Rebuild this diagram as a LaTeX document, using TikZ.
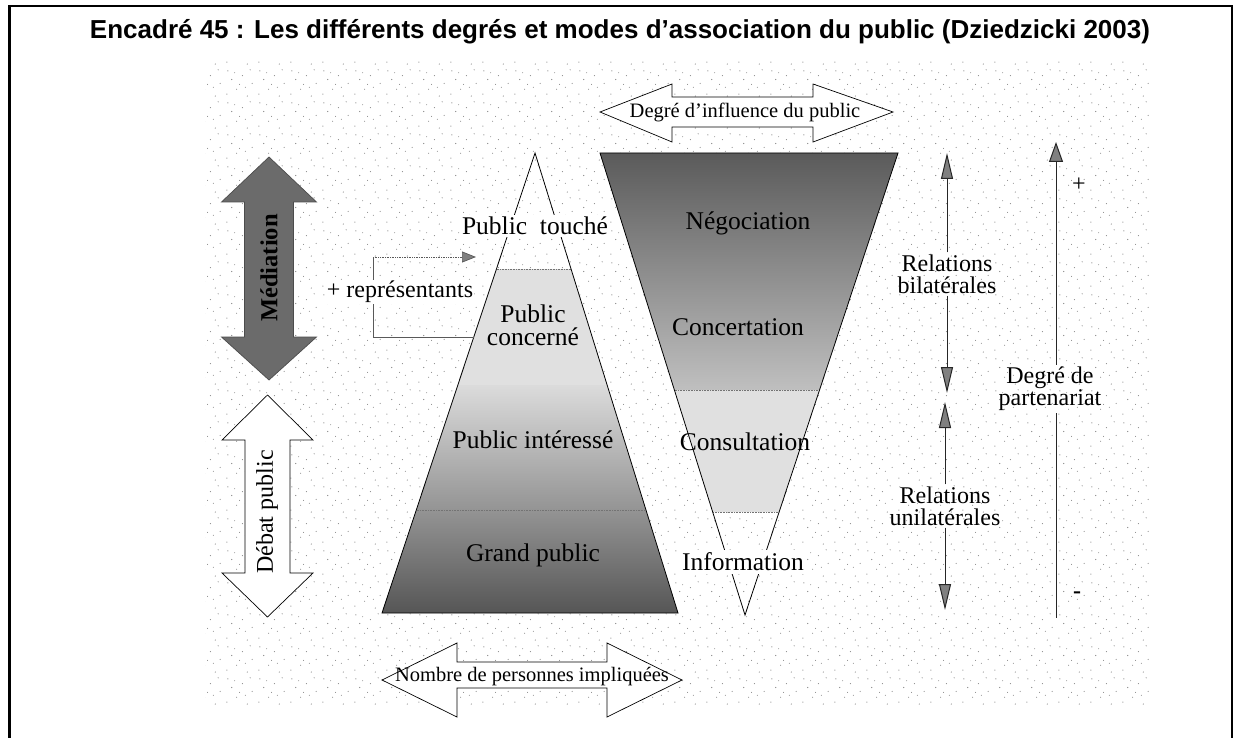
\documentclass[tikz,border=0pt]{standalone}
\usepackage{fontspec}
\setmainfont{Liberation Serif}
\newfontfamily\titlefont{Liberation Sans}
\usetikzlibrary{patterns,arrows.meta}
\pgfdeclarepatternformonly{stipple}{\pgfqpoint{0pt}{0pt}}{\pgfqpoint{32pt}{32pt}}{\pgfqpoint{32pt}{32pt}}{%
 \pgfpathcircle{\pgfqpoint{3pt}{4pt}}{0.6pt}
 \pgfpathcircle{\pgfqpoint{13pt}{9pt}}{0.6pt}
 \pgfpathcircle{\pgfqpoint{24pt}{2pt}}{0.6pt}
 \pgfpathcircle{\pgfqpoint{8pt}{19pt}}{0.6pt}
 \pgfpathcircle{\pgfqpoint{19pt}{23pt}}{0.6pt}
 \pgfpathcircle{\pgfqpoint{29pt}{15pt}}{0.6pt}
 \pgfpathcircle{\pgfqpoint{4pt}{28pt}}{0.6pt}
 \pgfpathcircle{\pgfqpoint{27pt}{29pt}}{0.6pt}
 \pgfpathcircle{\pgfqpoint{16pt}{14pt}}{0.5pt}
 \pgfpathcircle{\pgfqpoint{11pt}{26pt}}{0.5pt}
 \pgfpathcircle{\pgfqpoint{22pt}{11pt}}{0.5pt}
 \pgfusepath{fill}}
\begin{document}
\begin{tikzpicture}[x=1pt,y=1pt,
  titlestyle/.style={font=\titlefont\fontsize{26}{30}\bfseries, inner sep=0pt},
  lbl/.style={font=\fontsize{24}{22}\selectfont, align=center, inner sep=2pt},
  shapelbl/.style={font=\fontsize{25.5}{23}\selectfont, align=center, inner sep=2pt},
  arrlbl/.style={font=\fontsize{20.5}{22}\selectfont, inner sep=1pt},
  outline/.style={draw=black, line width=0.8pt},
  bigarrow/.style={draw=black, line width=0.7pt, fill=white},
  divline/.style={draw=black!55, line width=0.6pt, densely dotted},
  rel/.style={draw=black!85, line width=1pt},
  relhead/.style={-{Triangle[length=26pt,width=12pt,fill=black!50]}},
  parthead/.style={-{Triangle[length=20pt,width=14pt,fill=black!50]}},
  brk/.style={draw=black!65, line width=0.7pt}
]
\useasboundingbox (0,0) rectangle (1239,-738);
\fill[white] (0,0) rectangle (1239,-738);
% frame
\draw[line width=2.5pt] (9.5,-738) -- (9.5,-6) -- (1232,-6) -- (1232,-738);
\node[titlestyle] (title) at (620,-32) {Encadré 45 : Les différents degrés et modes d’association du public (Dziedzicki 2003)};
% stipple background
\fill[pattern=stipple, pattern color=black!50] (205,-60) rectangle (1150,-705);

% ---------- pyramid ----------
\coordinate (pA) at (535,-153);
\coordinate (pL) at (382,-613);
\coordinate (pR) at (678,-613);
\begin{scope}
  \clip (pA) -- (pL) -- (pR) -- cycle;
  \fill[black!12] (300,-269) rectangle (700,-385);
  \shade[top color=black!14, bottom color=black!42] (300,-385) rectangle (700,-510);
  \shade[top color=black!42, bottom color=black!68] (300,-510) rectangle (700,-620);
  \draw[divline] (300,-269) -- (700,-269);
  \draw[divline] (300,-510) -- (700,-510);
\end{scope}
\draw[outline] (pA) -- (pL) -- (pR) -- cycle;

% ---------- inverted triangle ----------
\coordinate (iL) at (600,-153);
\coordinate (iR) at (898,-153);
\coordinate (iT) at (745,-615);
\begin{scope}
  \clip (iL) -- (iR) -- (iT) -- cycle;
  \shade[top color=black!65, bottom color=black!25] (590,-150) rectangle (905,-390);
  \fill[black!12] (590,-390) rectangle (905,-512);
  \draw[divline] (590,-390) -- (905,-390);
  \draw[divline] (590,-512) -- (905,-512);
\end{scope}
\draw[outline] (iL) -- (iR) -- (iT) -- cycle;

% ---------- labels in shapes ----------
\node[shapelbl, fill=white] (touche) at (535,-226) {Public\ \ touché};
\node[shapelbl] (concerne) at (533,-325) {Public\\concerné};
\node[shapelbl] (interesse) at (533,-440) {Public intéressé};
\node[shapelbl] (grand) at (533,-555) {Grand public};
\node[shapelbl] (nego) at (748,-223) {Négociation};
\node[shapelbl] (conce) at (738,-327) {Concertation};
\node[shapelbl] (consu) at (745,-442) {Consultation};
\node[shapelbl, fill=white, inner sep=3pt] (info) at (743,-562) {Information};

% ---------- horizontal double arrows ----------
\draw[bigarrow] (600,-112) -- (672,-84) -- (672,-97) -- (813,-97) -- (813,-84) -- (893,-112)
  -- (813,-142) -- (813,-127) -- (672,-127) -- (672,-142) -- cycle;
\node[arrlbl] (infl) at (745,-112) {Degré d’influence du public};
\draw[bigarrow] (382,-680) -- (457,-643) -- (457,-662) -- (607,-662) -- (607,-643) -- (682,-680)
  -- (607,-717) -- (607,-688) -- (457,-688) -- (457,-717) -- cycle;
\node[arrlbl] (nombre) at (532,-677) {Nombre de personnes impliquées};

% ---------- vertical double arrows ----------
\draw[draw=black!70, line width=0.7pt, fill=black!58] (269,-157) -- (316.5,-202) -- (293.5,-202) -- (293.5,-337)
  -- (316.5,-337) -- (269,-380) -- (221.5,-337) -- (244.5,-337) -- (244.5,-202) -- (221.5,-202) -- cycle;
\node[lbl, font=\fontsize{24.5}{22}\bfseries, rotate=90] (med) at (269,-268) {Médiation};
\draw[bigarrow] (267.5,-395) -- (313,-440) -- (290,-440) -- (290,-573) -- (313,-573) -- (267.5,-617)
  -- (222,-573) -- (245,-573) -- (245,-440) -- (222,-440) -- cycle;
\node[lbl, rotate=90] (debat) at (267,-512) {Débat public};

% ---------- + représentants bracket ----------
\coordinate (bS) at (474,-337);
\coordinate (bC1) at (373,-337);
\coordinate (bC2) at (373,-257);
\coordinate (bE) at (476,-257);
\draw[brk] (bS) -- (bC1) -- (bC2);
\draw[brk, densely dotted, -{Triangle[length=14pt,width=11pt,fill=black!50]}] (bC2) -- (bE);
\node[lbl, fill=white, inner sep=1pt] (repr) at (400,-292) {+ représentants};

% ---------- relations ----------
\node[lbl] (bil) at (947,-274) {Relations\\bilatérales};
\node[lbl] (uni) at (945,-506) {Relations\\unilatérales};
\coordinate (bilTop) at (947,-153);
\coordinate (bilBot) at (947,-393);
\coordinate (uniTop) at (945,-402);
\coordinate (uniBot) at (945,-610);
\draw[rel, relhead] (bil.north) -- (bilTop);
\draw[rel, relhead] (bil.south) -- (bilBot);
\draw[rel, relhead] (uni.north) -- (uniTop);
\draw[rel, relhead] (uni.south) -- (uniBot);

% ---------- partenariat ----------
\node[lbl] (part) at (1050,-389) {Degré de\\partenariat};
\coordinate (pTop) at (1056,-142);
\coordinate (pBot) at (1056,-618);
\draw[rel, parthead] (part.north -| pTop) -- (pTop);
\draw[rel] (part.south -| pBot) -- (pBot);
\node[lbl] (plus) at (1079,-185) {+};
\node[lbl, font=\fontsize{24}{22}\bfseries] (minus) at (1077,-595) {-};
\end{tikzpicture}
\end{document}
